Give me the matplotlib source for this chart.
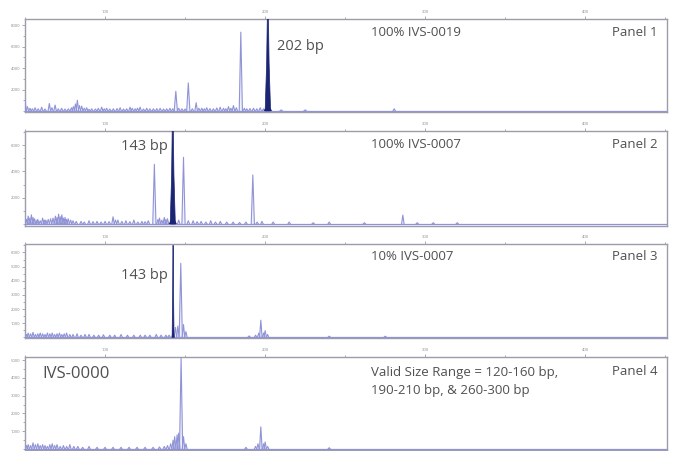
import matplotlib
matplotlib.use("Agg")
import matplotlib.pyplot as plt
from matplotlib.ticker import MultipleLocator

plt.rcParams['font.family'] = ['Open Sans', 'DejaVu Sans']

# ---------------- data (size in bp, height in RFU) ----------------
# Panel 1: 100% IVS-0019
p1_pos = [50, 51.5, 53.1, 54.6, 56.3, 58.2, 60.4, 62.5, 65.2, 66.8, 68.8, 70.8, 72.9, 75, 77.1,
          79, 80.2, 81.5, 82.7, 84, 85.4, 87, 88.5, 90, 91.7, 94, 95.8, 97.9, 99.5,
          101, 103, 105.2, 107.5, 109.4, 111.5, 113.5, 115.6, 117, 118.8, 120.3, 121.9, 124, 126,
          128, 130.2, 132.3, 134.4, 136.5, 138.5, 140.5, 142.3, 144.2, 146, 148, 150, 152,
          154.5, 156.9, 158.6, 160.4, 162, 163.5, 165.5, 167.7, 169.8, 171.9, 174, 175.5, 177.1,
          178.6, 180.2, 182, 184.8, 187, 188.5, 190.5, 192.7, 194.8, 196.9, 199, 210, 225, 280.6]
p1_hgt = [1100, 400, 250, 200, 300, 200, 350, 180, 700, 300, 550, 200, 250, 180, 200,
          300, 400, 650, 1000, 500, 450, 250, 300, 150, 200, 180, 250, 350, 200,
          250, 180, 200, 220, 300, 180, 200, 350, 250, 200, 260, 350, 180, 250,
          200, 200, 220, 250, 180, 200, 250, 200, 1840, 250, 200, 180, 2620,
          200, 770, 250, 250, 200, 300, 220, 200, 280, 350, 250, 200, 400,
          250, 500, 300, 7370, 250, 200, 220, 250, 200, 300, 200, 100, 100, 200]
p1_dark_pos = [201.7]
p1_dark_hgt = [9000]

# Panel 2: 100% IVS-0007
p2_pos = [51, 52, 53, 54, 55, 56, 57.5, 58, 59.5, 61, 62, 63, 64.5, 66, 67.5, 69, 70, 71, 72,
          73, 74, 75, 76, 77, 78.5, 80, 82, 85, 87, 90, 92.5, 95, 97.5, 100, 102.5, 105, 106.5,
          108, 110.5, 113, 115.5, 118, 120.5, 123, 125, 127, 130.8, 133, 134, 135.5, 137, 138,
          139, 146, 149, 152, 155, 157.5, 160, 163, 166, 169, 172, 176, 180, 184, 188, 192.3,
          195, 198, 205, 215, 230, 240, 262, 286, 295, 305, 320]
p2_hgt = [350, 600, 450, 700, 500, 400, 300, 350, 250, 450, 300, 300, 350, 400, 450, 600, 500,
          750, 550, 700, 450, 500, 350, 400, 300, 250, 200, 200, 150, 250, 180, 200, 150, 200,
          180, 550, 300, 300, 200, 250, 180, 300, 150, 200, 180, 250, 4540, 350, 450, 300,
          500, 350, 400, 300, 5070, 250, 250, 180, 200, 150, 250, 150, 200, 150, 150, 120,
          150, 3730, 150, 200, 150, 150, 100, 150, 100, 680, 100, 100, 100]
p2_dark_pos = [142.3]
p2_dark_hgt = [7500]

# Panel 3: 10% IVS-0007
p3_pos = [51, 52, 53.5, 55, 56.5, 58, 59.5, 61, 62.5, 64, 65.5, 67, 68.5, 70, 71.5, 73, 74.5, 76,
          78, 80, 82.5, 85, 87.5, 90, 93, 96, 99, 103, 106, 110, 114, 118, 122, 125, 128, 132,
          135, 138, 140, 144, 145.5, 147.3, 149, 150.5, 190, 194, 196, 197.3, 199, 200, 201.5,
          240, 275]
p3_hgt = [200, 300, 250, 350, 200, 250, 300, 250, 200, 300, 250, 300, 200, 250, 300, 200, 250,
          300, 200, 200, 250, 150, 200, 200, 150, 150, 180, 150, 150, 200, 150, 150, 150, 150,
          150, 200, 150, 150, 150, 700, 800, 5240, 900, 400, 100, 150, 300, 1210, 300, 470, 200,
          80, 80]
p3_dark_pos = [142.5]
p3_dark_hgt = [6500]

# Panel 4: IVS-0000
p4_pos = [51, 52, 53.5, 55, 56.5, 58, 59.5, 61, 62.5, 64, 65.5, 67, 68.5, 70, 72, 74, 76, 78,
          80.5, 83, 86, 90, 95, 100, 105, 110, 115, 120, 125, 130, 134, 137, 139, 141, 142.5,
          143.5, 145, 146, 147.5, 149, 150.5, 188, 194, 195.5, 197.3, 199, 200, 201.5, 240]
p4_hgt = [200, 250, 200, 350, 250, 300, 200, 250, 200, 150, 250, 300, 200, 250, 150, 200, 150,
          250, 150, 150, 100, 150, 100, 100, 100, 100, 100, 100, 100, 100, 120, 150, 200, 300,
          500, 700, 800, 900, 5100, 700, 300, 100, 150, 300, 1250, 300, 400, 150, 80]

panel_texts = ["100% IVS-0019", "100% IVS-0007", "10% IVS-0007",
               "Valid Size Range = 120-160 bp,\n190-210 bp, & 260-300 bp"]
panel_names = ["Panel 1", "Panel 2", "Panel 3", "Panel 4"]
ylims = [(-100, 8600), (-150, 7070), (-50, 6600), (-50, 5170)]
ysteps = [2000, 2000, 1000, 1000]
x_ticks = [100, 200, 300, 400]

LIGHT = '#9094d6'
DARK = '#1b2574'
SPINE = '#9c9cab'
TXT = '#505050'

fig = plt.figure(figsize=(6.76, 4.51), dpi=100)
rects = [(25, 19, 112), (25, 131, 226), (25, 244, 338), (25, 357, 450)]
W, H = 676.0, 451.0


def draw_light(ax, pos, hgt):
    for p, h in zip(pos, hgt):
        w = 1.0 if h > 1500 else 0.8
        ax.fill([p - w, p, p + w], [0, h, 0], color='#eef0fb', lw=0, zorder=2)
        ax.plot([p - w, p, p + w], [0, h, 0], color=LIGHT, lw=0.8, zorder=3)


def draw_dark(ax, pos, hgt, hw):
    for p, h in zip(pos, hgt):
        ax.fill([p - hw, p - hw * 0.45, p - hw * 0.2, p + hw * 0.2, p + hw * 0.45, p + hw],
                [0, h * 0.5, h, h, h * 0.5, 0], color=DARK, lw=0.5, zorder=4)
        ax.fill([p - hw * 1.6, p, p + hw * 1.6], [0, 600, 0], color=DARK, lw=0, zorder=4)


light_sets = [(p1_pos, p1_hgt), (p2_pos, p2_hgt), (p3_pos, p3_hgt), (p4_pos, p4_hgt)]
dark_sets = [(p1_dark_pos, p1_dark_hgt, 1.7), (p2_dark_pos, p2_dark_hgt, 1.6),
             (p3_dark_pos, p3_dark_hgt, 0.6), None]

axes = []
for i, (l, t, b) in enumerate(rects):
    ax = fig.add_axes([l / W, 1 - b / H, (667 - l) / W, (b - t) / H])
    axes.append(ax)
    ax.set_xlim(50, 451)
    ax.set_ylim(*ylims[i])
    ax.axhline(0, color=LIGHT, lw=0.9, zorder=3)
    draw_light(ax, *light_sets[i])
    if dark_sets[i] is not None:
        draw_dark(ax, *dark_sets[i])
    for s in ax.spines.values():
        s.set_color(SPINE)
        s.set_linewidth(1.0)
    ax.xaxis.tick_top()
    ax.set_xticks(x_ticks)
    ax.set_xticklabels([str(v) for v in x_ticks])
    ax.xaxis.set_minor_locator(MultipleLocator(50))
    ax.yaxis.set_major_locator(MultipleLocator(ysteps[i]))
    ax.yaxis.set_minor_locator(MultipleLocator(ysteps[i] / 2))
    ax.tick_params(axis='both', which='both', colors=SPINE, labelcolor='#888888',
                   labelsize=3, width=0.6, length=2, pad=1.5, direction='out')
    ax.tick_params(axis='both', which='minor', length=1.5)
    yt = [v for v in ax.get_yticks() if 0 < v <= ylims[i][1]]
    ax.set_yticks(yt)
    ax.set_yticklabels([str(int(v)) for v in yt])

# texts
axes[0].text(0.539, 0.86, panel_texts[0], transform=axes[0].transAxes, ha='left', va='center',
             fontsize=9.5, color=TXT)
axes[1].text(0.539, 0.863, panel_texts[1], transform=axes[1].transAxes, ha='left', va='center',
             fontsize=9.5, color=TXT)
axes[2].text(0.539, 0.872, panel_texts[2], transform=axes[2].transAxes, ha='left', va='center',
             fontsize=9.5, color=TXT)
axes[3].text(0.539, 0.90, panel_texts[3], transform=axes[3].transAxes, ha='left', va='top',
             fontsize=9.5, color=TXT, linespacing=1.45)
ys_name = [0.86, 0.863, 0.872, 0.842]
for ax, nm, yy in zip(axes, panel_names, ys_name):
    ax.text(0.9855, yy, nm, transform=ax.transAxes, ha='right', va='center',
            fontsize=9.5, color=TXT)

axes[0].text(0.3925, 0.70, "202 bp", transform=axes[0].transAxes, ha='left', va='center',
             fontsize=10.5, color=TXT)
axes[1].text(0.149, 0.835, "143 bp", transform=axes[1].transAxes, ha='left', va='center',
             fontsize=10.5, color=TXT)
axes[2].text(0.149, 0.67, "143 bp", transform=axes[2].transAxes, ha='left', va='center',
             fontsize=10.5, color=TXT)
axes[3].text(0.0276, 0.817, "IVS-0000", transform=axes[3].transAxes, ha='left', va='center',
             fontsize=12, color=TXT)

fig.savefig("out.png", dpi=100)
